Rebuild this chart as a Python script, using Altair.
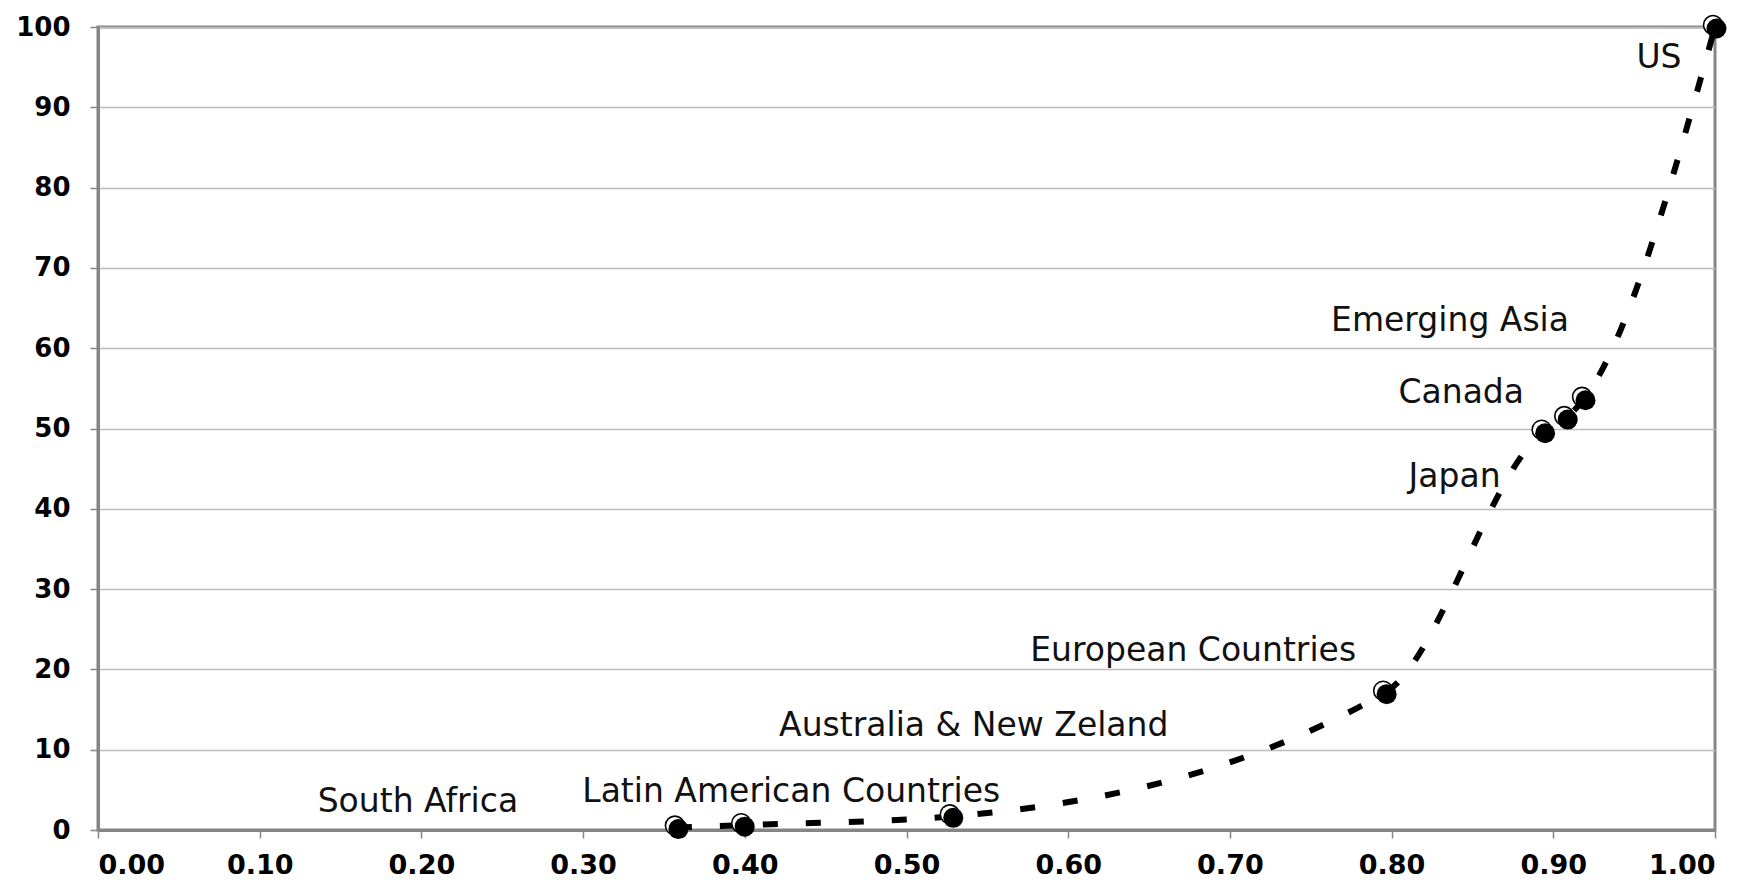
import altair as alt
import pandas as pd

# ---- data ----
regions = ["South Africa", "Latin American Countries", "Australia & New Zeland",
           "European Countries", "Japan", "Canada", "Emerging Asia", "US"]
x_vals = [0.358, 0.399, 0.528, 0.796, 0.894, 0.908, 0.919, 1.00]
y_vals = [0.3, 0.6, 1.7, 17.1, 49.6, 51.3, 53.7, 100.0]
x_ticks = [0.0, 0.1, 0.2, 0.3, 0.4, 0.5, 0.6, 0.7, 0.8, 0.9, 1.0]
y_ticks = [0, 10, 20, 30, 40, 50, 60, 70, 80, 90, 100]

df = pd.DataFrame({"region": regions, "x": x_vals, "y": y_vals})

# ---- style: label placement offsets in pixels (dx, dy) ----
label_offsets = {
    "South Africa": (-259, -26),
    "Latin American Countries": (48, -33),
    "Australia & New Zeland": (22, -90),
    "European Countries": (-192, -42),
    "Japan": (-89, 45),
    "Canada": (-105, -25),
    "Emerging Asia": (-134, -78),
    "US": (-56, 31),
}

GRAY = "#858585"
xs = alt.X("x:Q", scale=alt.Scale(domain=[0, 1], nice=False),
           axis=alt.Axis(values=x_ticks, format=".2f", title=None, grid=False,
                         tickSize=8, tickWidth=1.5, tickColor=GRAY,
                         domainColor=GRAY, domainWidth=3,
                         labelFont="DejaVu Sans", labelFontWeight="bold",
                         labelFontSize=27, labelColor="#000", labelPadding=14))
ys = alt.Y("y:Q", scale=alt.Scale(domain=[0, 100], nice=False),
           axis=alt.Axis(values=y_ticks, title=None, grid=True,
                         gridColor="#bcbcbc", gridWidth=1.5,
                         tickSize=8, tickWidth=1.5, tickColor=GRAY,
                         domainColor=GRAY, domainWidth=3,
                         labelFont="DejaVu Sans", labelFontWeight="bold",
                         labelFontSize=26, labelColor="#000", labelPadding=20))

base = alt.Chart(df)

line = base.mark_line(color="black", strokeWidth=6, strokeDash=[15, 28],
                      interpolate="monotone").encode(x=xs, y=ys, order="x:Q")

pt_shadow = base.mark_point(filled=True, shape="circle", size=420, color="black",
                            opacity=1, xOffset=-2, yOffset=-2).encode(x=xs, y=ys)
pt_high = base.mark_point(filled=True, shape="circle", size=300, color="white",
                          opacity=1, xOffset=-2, yOffset=-2).encode(x=xs, y=ys)
pt_main = base.mark_point(filled=True, shape="circle", size=400, color="black",
                          opacity=1, xOffset=1.5, yOffset=1.5).encode(x=xs, y=ys)

labels = []
for name in regions:
    dx, dy = label_offsets[name]
    labels.append(
        base.transform_filter(alt.datum.region == name)
        .mark_text(font="DejaVu Sans", fontSize=33, color="#111",
                   align="center", baseline="middle", dx=dx, dy=dy)
        .encode(x=xs, y=ys, text="region:N")
    )

chart = alt.layer(line, pt_shadow, pt_high, pt_main, *labels).properties(
    width=1617, height=803,
    autosize=alt.AutoSizeParams(type="none"),
    padding={"left": 90, "top": 19, "right": 24, "bottom": 52},
    background="white",
).configure_view(stroke=GRAY, strokeWidth=3)

chart.save("out.html", embed_options={"renderer": "svg", "actions": False})
